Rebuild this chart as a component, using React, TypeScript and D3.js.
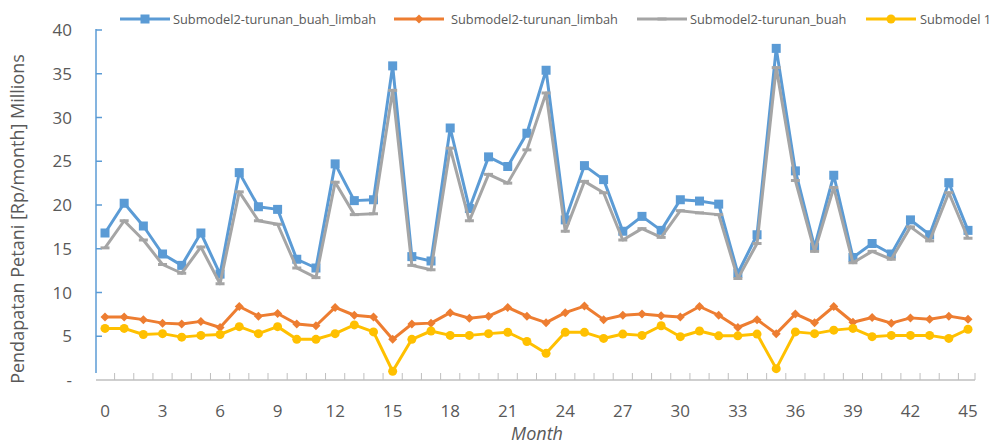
import React from "react";
import * as d3 from "d3";

const months = d3.range(0, 46);
const buahLimbah = [16.8, 20.2, 17.6, 14.4, 13.1, 16.8, 12.1, 23.7, 19.8, 19.5, 13.8, 12.8, 24.7, 20.5, 20.6, 35.9, 14.1, 13.6, 28.8, 19.6, 25.5, 24.4, 28.2, 35.4, 18.3, 24.5, 22.9, 17.0, 18.7, 17.1, 20.6, 20.45, 20.1, 12.2, 16.6, 37.9, 23.9, 15.2, 23.4, 14.0, 15.6, 14.4, 18.3, 16.6, 22.55, 17.1];
const limbah = [7.2, 7.2, 6.9, 6.5, 6.4, 6.7, 6.0, 8.4, 7.3, 7.6, 6.4, 6.2, 8.3, 7.4, 7.2, 4.65, 6.4, 6.5, 7.7, 7.05, 7.3, 8.3, 7.3, 6.55, 7.7, 8.45, 6.9, 7.4, 7.55, 7.35, 7.2, 8.4, 7.4, 6.0, 6.9, 5.3, 7.55, 6.55, 8.4, 6.6, 7.15, 6.5, 7.1, 6.95, 7.3, 6.95];
const buah = [15.1, 18.2, 16.0, 13.2, 12.2, 15.2, 11.0, 21.5, 18.2, 17.8, 12.8, 11.7, 22.6, 18.9, 19.0, 33.1, 13.1, 12.6, 26.5, 18.2, 23.5, 22.5, 26.3, 32.8, 17.0, 22.7, 21.4, 16.0, 17.3, 16.3, 19.35, 19.1, 18.9, 11.6, 15.6, 35.7, 22.8, 14.7, 22.0, 13.4, 14.7, 13.8, 17.5, 15.9, 21.4, 16.2];
const sub1 = [5.9, 5.9, 5.2, 5.3, 4.9, 5.1, 5.2, 6.1, 5.3, 6.1, 4.65, 4.65, 5.3, 6.3, 5.5, 1.0, 4.65, 5.6, 5.1, 5.1, 5.3, 5.45, 4.4, 3.05, 5.45, 5.45, 4.75, 5.25, 5.1, 6.2, 4.95, 5.6, 5.05, 5.05, 5.25, 1.3, 5.5, 5.3, 5.7, 5.9, 4.95, 5.1, 5.1, 5.1, 4.75, 5.8];

const seriesNames = ["Submodel2-turunan_buah_limbah", "Submodel2-turunan_limbah", "Submodel2-turunan_buah", "Submodel 1"];
const yTicks = [0, 5, 10, 15, 20, 25, 30, 35, 40];
const xTickLabels = d3.range(0, 46, 3);

const colors = ["#5B9BD5", "#ED7D31", "#A5A5A5", "#FFC000"];
const markers = ["square", "diamond", "dash", "circle"];
const FONT = "'Open Sans', sans-serif";
const TXT = "#595959";

function Marker({ type, x, y, color }: { type: string; x: number; y: number; color: string }) {
  if (type === "square") return <rect x={x - 4.5} y={y - 4.5} width={9} height={9} fill={color} />;
  if (type === "diamond")
    return <path d={`M${x},${y - 4.5}L${x + 4.5},${y}L${x},${y + 4.5}L${x - 4.5},${y}Z`} fill={color} />;
  if (type === "dash") return <rect x={x - 4.5} y={y - 1.5} width={9} height={3} fill={color} />;
  return <circle cx={x} cy={y} r={4.5} fill={color} />;
}

export default function App() {
  const W = 992, H = 445;
  const x = d3.scaleLinear().domain([0, 45]).range([105, 968]);
  const y = d3.scaleLinear().domain([0, 40]).range([380, 30]);
  const data = [buahLimbah, limbah, buah, sub1];
  const line = d3.line<number>().x((_, i) => x(months[i])).y((d) => y(d));
  const axisX0 = 96, axisX1 = 975;

  const legendItems = [
    { lx: 120, tx: 173 },
    { lx: 394, tx: 451 },
    { lx: 637, tx: 690 },
    { lx: 866, tx: 920 },
  ];

  return (
    <svg width={W} height={H} style={{ position: "absolute", left: 0, top: 0, background: "#fff" }}>
      {/* x axis */}
      <line x1={axisX0} x2={axisX1} y1={380} y2={380} stroke="#BFBFBF" strokeWidth={1.5} />
      {d3.range(0, 45).map((i) => (
        <line key={i} x1={x(i + 0.5)} x2={x(i + 0.5)} y1={380} y2={373} stroke="#BFBFBF" strokeWidth={1} />
      ))}
      <line x1={axisX1} x2={axisX1} y1={380} y2={373} stroke="#BFBFBF" strokeWidth={1} />
      {/* y axis */}
      <line x1={axisX0} x2={axisX0} y1={y(40) - 1} y2={373} stroke="#5B9BD5" strokeWidth={1.5} />
      {yTicks.filter((t) => t > 0).map((t) => (
        <line key={t} x1={axisX0} x2={axisX0 + 6} y1={y(t)} y2={y(t)} stroke="#5B9BD5" strokeWidth={1.5} />
      ))}
      {yTicks.map((t) => (
        <text key={t} x={72} y={y(t) + 6} textAnchor="end" fontFamily={FONT} fontSize={17} fill={TXT}>
          {t === 0 ? "-" : t}
        </text>
      ))}
      {xTickLabels.map((t) => (
        <text key={t} x={x(t)} y={417} textAnchor="middle" fontFamily={FONT} fontSize={17} fill={TXT}>
          {t}
        </text>
      ))}
      <text x={537} y={440} textAnchor="middle" fontFamily={FONT} fontSize={18} fontStyle="italic" fill={TXT}>
        Month
      </text>
      <text
        transform={`translate(24,219) rotate(-90)`}
        textAnchor="middle"
        fontFamily={FONT}
        fontSize={18}
        fill={TXT}
      >
        Pendapatan Petani [Rp/month] Millions
      </text>
      {/* series */}
      {data.map((d, si) => (
        <g key={si}>
          <path d={line(d) || ""} fill="none" stroke={colors[si]} strokeWidth={3} strokeLinejoin="round" />
          {d.map((v, i) => (
            <Marker key={i} type={markers[si]} x={x(months[i])} y={y(v)} color={colors[si]} />
          ))}
        </g>
      ))}
      {/* legend */}
      {seriesNames.map((n, i) => (
        <g key={n}>
          <line x1={legendItems[i].lx} x2={legendItems[i].lx + 50} y1={19} y2={19} stroke={colors[i]} strokeWidth={3} />
          <Marker type={markers[i]} x={legendItems[i].lx + 25} y={19} color={colors[i]} />
          <text x={legendItems[i].tx} y={24} fontFamily={FONT} fontSize={12.8} fill={TXT}>
            {n}
          </text>
        </g>
      ))}
    </svg>
  );
}
